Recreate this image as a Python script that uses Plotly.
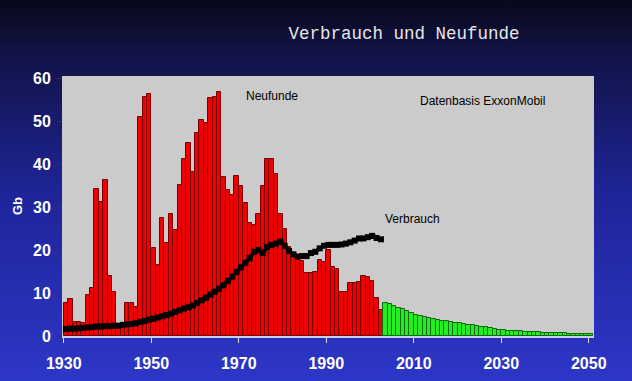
import base64
import plotly.graph_objects as go

# ---- data ----
red_years = list(range(1930, 2003))
neufunde = [7.7, 8.5, 3.3, 3.3, 3.0, 9.5, 11.1, 34.3, 31.2, 36.3,
            14.0, 10.3, 2.5, 2.5, 7.7, 7.7, 6.8, 51.0, 55.7, 56.3,
            20.4, 16.5, 27.4, 21.6, 28.5, 24.7, 35.1, 41.3, 45.0, 38.2,
            47.3, 50.2, 49.5, 55.3, 55.7, 56.8, 37.0, 34.0, 32.8, 37.2,
            34.9, 30.9, 26.2, 25.8, 28.4, 34.9, 41.1, 41.1, 37.8, 28.4,
            25.0, 20.8, 18.4, 17.7, 17.5, 14.6, 14.6, 15.0, 17.7, 17.3,
            20.0, 16.0, 15.7, 10.3, 10.3, 12.4, 12.4, 12.6, 14.0, 13.8,
            12.8, 8.8, 6.0]

green_years = list(range(2003, 2051))
prognose = [7.6, 7.5, 7.0, 6.6, 6.2, 5.8, 5.4, 5.0, 4.65, 4.5,
            4.3, 4.0, 3.7, 3.6, 3.4, 3.3, 3.1, 2.95, 2.8, 2.6,
            2.5, 2.3, 2.2, 2.1, 1.8, 1.7, 1.5, 1.4, 1.25, 1.2,
            1.1, 1.05, 1.0, 0.95, 0.9, 0.85, 0.8, 0.75, 0.7, 0.68,
            0.65, 0.6, 0.58, 0.55, 0.52, 0.5, 0.48, 0.45]

verbrauch = [1.6, 1.7, 1.7, 1.8, 1.9, 2.0, 2.1, 2.2, 2.2, 2.3,
             2.3, 2.4, 2.4, 2.6, 2.7, 2.8, 3.0, 3.3, 3.5, 3.8,
             4.0, 4.3, 4.6, 4.9, 5.2, 5.6, 6.0, 6.4, 6.7, 7.1,
             7.7, 8.3, 8.9, 9.6, 10.3, 11.0, 11.8, 12.8, 13.8, 14.9,
             16.0, 17.0, 18.1, 19.6, 20.0, 19.3, 20.7, 21.2, 21.5, 22.0,
             21.0, 19.8, 19.0, 18.5, 18.6, 18.6, 19.3, 19.6, 20.4, 21.0,
             21.2, 21.2, 21.2, 21.3, 21.5, 21.8, 22.2, 22.7, 22.7, 23.0,
             23.3, 22.8, 22.5]

x_ticks = [1930, 1950, 1970, 1990, 2010, 2030, 2050]
y_ticks = [0, 10, 20, 30, 40, 50, 60]

# ---- background gradient as an SVG image ----
svg = ('<svg xmlns="http://www.w3.org/2000/svg" width="632" height="381">'
       '<defs><linearGradient id="g" x1="0" y1="0" x2="0" y2="1">'
       '<stop offset="0" stop-color="#08081a"/>'
       '<stop offset="0.16" stop-color="#12144a"/>'
       '<stop offset="0.5" stop-color="#1e2496"/>'
       '<stop offset="1" stop-color="#2e36c8"/>'
       '</linearGradient></defs>'
       '<rect width="632" height="381" fill="url(#g)"/></svg>')
bg_src = "data:image/svg+xml;base64," + base64.b64encode(svg.encode()).decode()

fig = go.Figure()

fig.add_trace(go.Bar(x=red_years, y=neufunde, width=1, offset=0,
                     marker=dict(color="#f00000", line=dict(color="#7a0000", width=1)),
                     showlegend=False))
fig.add_trace(go.Bar(x=green_years, y=prognose, width=1, offset=0,
                     marker=dict(color="#22ee22", line=dict(color="#0a6a0a", width=1)),
                     showlegend=False))
fig.add_trace(go.Scatter(x=[y + 0.5 for y in red_years], y=verbrauch, mode="lines+markers",
                         line=dict(color="black", width=4),
                         marker=dict(symbol="square", size=6, color="black"),
                         showlegend=False))

tick_font = dict(family="Liberation Sans", size=16, color="white", weight="bold")

fig.update_layout(
    width=632, height=381,
    margin=dict(l=62, r=38, t=76, b=45),
    paper_bgcolor="#1a2080",
    plot_bgcolor="#cbcbcb",
    bargap=0,
    images=[dict(source=bg_src, xref="paper", yref="paper", x=-62 / 532, y=1 + 76 / 260,
                 sizex=632 / 532, sizey=381 / 260, sizing="stretch",
                 xanchor="left", yanchor="top", layer="below")],
    shapes=[dict(type="rect", xref="paper", yref="paper", x0=0, x1=1, y0=0, y1=1,
                 fillcolor="#cbcbcb", line=dict(width=0), layer="below")],
    title=dict(text="Verbrauch und Neufunde", x=404 / 632, xanchor="center",
               y=1 - 33 / 381, yanchor="middle",
               font=dict(family="Liberation Mono", size=17.5, color="#e6e6e6")),
    xaxis=dict(range=[1929.6, 2051.2], tickvals=x_ticks, ticktext=[str(v) for v in x_ticks],
               showgrid=False, zeroline=False, ticks="outside", ticklen=5, tickcolor="#dddddd",
               showline=True, linecolor="#c8d0ff", linewidth=2,
               ticklabelstandoff=7, automargin=False,
               tickfont=tick_font),
    yaxis=dict(range=[0, 60.5], tickvals=y_ticks, showgrid=False, zeroline=False,
               ticks="outside", ticklen=4, tickcolor="#333355",
               showline=False, ticklabelstandoff=3, automargin=False,
               title=dict(text="Gb", standoff=7,
                          font=dict(family="Liberation Sans", size=13, color="white", weight="bold")),
               tickfont=tick_font),
    annotations=[
        dict(text="Neufunde", x=1977.6, y=55.8, xref="x", yref="y", showarrow=False,
             font=dict(family="Liberation Sans", size=12, color="black")),
        dict(text="Datenbasis ExxonMobil", x=2025.6, y=54.8, xref="x", yref="y", showarrow=False,
             font=dict(family="Liberation Sans", size=12, color="black")),
        dict(text="Verbrauch", x=2009.6, y=27.2, xref="x", yref="y", showarrow=False,
             font=dict(family="Liberation Sans", size=12, color="black")),
    ],
)

fig.write_html("out.html", config={"displayModeBar": False},
               post_script="document.body.style.margin='0';")
